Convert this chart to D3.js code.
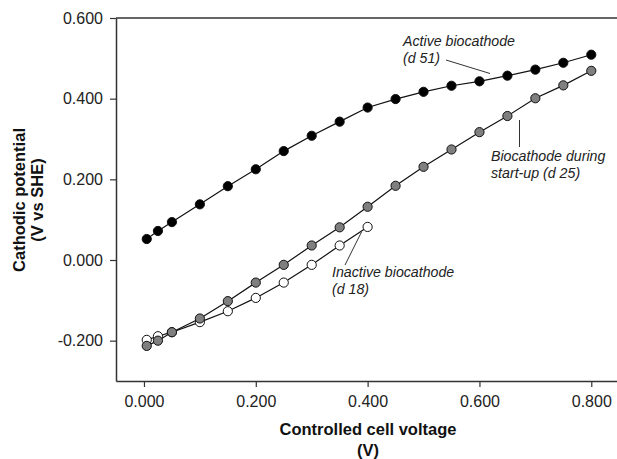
<!DOCTYPE html>
<html>
<head>
<meta charset="utf-8">
<style>
  body { margin: 0; background: #fff; }
  svg { display: block; font-family: "Liberation Sans", Arial, sans-serif; }
  .tick text { font-size: 16px; fill: #222; }
  .title { font-size: 16.5px; font-weight: bold; fill: #111; }
  .note { font-size: 14.2px; font-style: italic; fill: #222; }
</style>
</head>
<body>
<div id="chart"></div>
<script src="https://d3js.org/d3.v7.min.js"></script>
<script>
// Controlled cell voltage (V)
const voltsFull = [0.005, 0.025, 0.05, 0.1, 0.15, 0.2, 0.25, 0.3, 0.35, 0.4, 0.45, 0.5, 0.55, 0.6, 0.65, 0.7, 0.75, 0.8];
const voltsHalf = [0.005, 0.025, 0.05, 0.1, 0.15, 0.2, 0.25, 0.3, 0.35, 0.4];

// Cathodic potential (V vs SHE)
const activeD51 = [0.052, 0.072, 0.094, 0.138, 0.183, 0.225, 0.270, 0.308, 0.343, 0.378, 0.399, 0.417, 0.432, 0.443, 0.457, 0.472, 0.489, 0.509];
const startupD25 = [-0.213, -0.200, -0.179, -0.145, -0.102, -0.056, -0.012, 0.036, 0.081, 0.132, 0.184, 0.231, 0.274, 0.317, 0.357, 0.401, 0.433, 0.469];
const inactiveD18 = [-0.198, -0.189, -0.179, -0.154, -0.127, -0.094, -0.056, -0.012, 0.036, 0.082];

const xTicks = [0, 0.2, 0.4, 0.6, 0.8];
const yTicks = [-0.2, 0, 0.2, 0.4, 0.6];

const width = 617, height = 459;

const svg = d3.select("#chart").append("svg")
  .attr("width", width)
  .attr("height", height);

const x = d3.scaleLinear().domain([-0.05, 0.846]).range([116, 617]);
const y = d3.scaleLinear().domain([-0.3, 0.6]).range([381, 18]);

const fmt = v => d3.format(".3f")(v).replace("\u2212", "-");

// axes
svg.append("g")
  .attr("transform", `translate(0,${y(-0.3)})`)
  .call(d3.axisBottom(x).tickValues(xTicks).tickFormat(fmt).tickSize(6).tickPadding(9).tickSizeOuter(0));

svg.append("g")
  .attr("transform", `translate(${x(-0.05)},0)`)
  .call(d3.axisLeft(y).tickValues(yTicks).tickFormat(fmt).tickSize(6).tickPadding(7).tickSizeOuter(0));

svg.selectAll(".domain").attr("stroke", "#333").attr("stroke-width", 1.5);
svg.selectAll(".tick line").attr("stroke", "#333").attr("stroke-width", 1.2);

// top frame line
svg.append("line")
  .attr("x1", x(-0.05)).attr("x2", x(0.846))
  .attr("y1", y(0.6)).attr("y2", y(0.6))
  .attr("stroke", "#333").attr("stroke-width", 1.5);

// series
const series = [
  { xs: voltsHalf, ys: inactiveD18, fill: "#fff" },
  { xs: voltsFull, ys: startupD25, fill: "#7f7f7f" },
  { xs: voltsFull, ys: activeD51, fill: "#000" }
];

const line = d3.line().x(d => x(d[0])).y(d => y(d[1]));

series.forEach(s => {
  const pts = s.xs.map((v, i) => [v, s.ys[i]]);
  svg.append("path")
    .datum(pts)
    .attr("d", line)
    .attr("fill", "none")
    .attr("stroke", "#111")
    .attr("stroke-width", 1.2);
});

series.forEach(s => {
  const pts = s.xs.map((v, i) => [v, s.ys[i]]);
  svg.append("g").selectAll("circle")
    .data(pts)
    .enter().append("circle")
    .attr("cx", d => x(d[0]))
    .attr("cy", d => y(d[1]))
    .attr("r", 4.6)
    .attr("fill", s.fill)
    .attr("stroke", "#111")
    .attr("stroke-width", 1);
});

// annotations
function note(lines, tx, ty) {
  const t = svg.append("text").attr("class", "note").attr("x", tx).attr("y", ty);
  lines.forEach((l, i) => t.append("tspan").attr("x", tx).attr("dy", i ? 17 : 0).text(l));
}
function leader(x1, y1, x2, y2) {
  svg.append("line")
    .attr("x1", x1).attr("y1", y1).attr("x2", x2).attr("y2", y2)
    .attr("stroke", "#333").attr("stroke-width", 1);
}

note(["Active biocathode", "(d 51)"], 403, 46);
leader(446, 60, 490, 73.5);

note(["Biocathode during", "start-up (d 25)"], 491, 161);
leader(519.5, 120, 519.5, 147);

note(["Inactive biocathode", "(d 18)"], 332, 277);
leader(345, 265, 361.5, 232);

// axis titles
const xt = svg.append("text").attr("class", "title").attr("text-anchor", "middle");
xt.append("tspan").attr("x", 368).attr("y", 435).text("Controlled cell voltage");
xt.append("tspan").attr("x", 368).attr("y", 456).text("(V)");

const yt = svg.append("text").attr("class", "title").attr("text-anchor", "middle")
  .attr("transform", "translate(0,200) rotate(-90)");
yt.append("tspan").attr("x", 0).attr("y", 25).text("Cathodic potential");
yt.append("tspan").attr("x", 0).attr("y", 43).text("(V vs SHE)");
</script>
</body>
</html>
